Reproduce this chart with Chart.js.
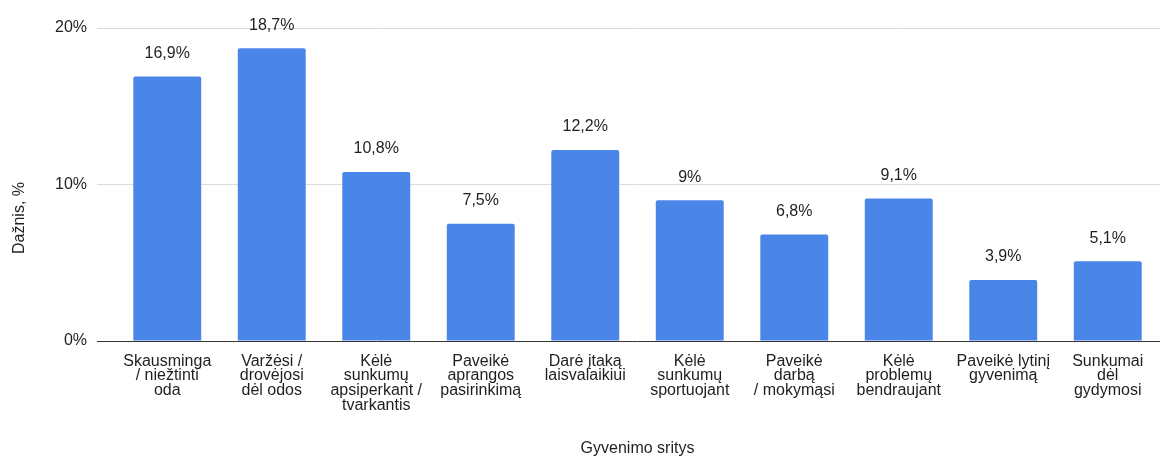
<!DOCTYPE html>
<html>
<head>
<meta charset="utf-8">
<script src="https://cdn.jsdelivr.net/npm/chart.js@4/dist/chart.umd.min.js"></script>
<style>
html,body{margin:0;padding:0;background:#fff;}
#wrap{width:1162px;height:459px;position:relative;}
</style>
</head>
<body>
<div id="wrap"><canvas id="c" width="1162" height="459"></canvas></div>
<script>
const categories = [
  ["Skausminga", "/ niežtinti", "oda"],
  ["Varžėsi /", "drovėjosi", "dėl odos"],
  ["Kėlė", "sunkumų", "apsiperkant /", "tvarkantis"],
  ["Paveikė", "aprangos", "pasirinkimą"],
  ["Darė įtaką", "laisvalaikiui"],
  ["Kėlė", "sunkumų", "sportuojant"],
  ["Paveikė", "darbą", "/ mokymąsi"],
  ["Kėlė", "problemų", "bendraujant"],
  ["Paveikė lytinį", "gyvenimą"],
  ["Sunkumai", "dėl", "gydymosi"]
];
const values = [16.9, 18.7, 10.8, 7.5, 12.2, 9, 6.8, 9.1, 3.9, 5.1];
const yTicks = [0, 10, 20];
const xTitle = "Gyvenimo sritys";
const yTitle = "Dažnis, %";

const FONT = "Arial, 'Liberation Sans', Helvetica, sans-serif";
const TXT = "#1f1f1f";

const fmt = v => String(v).replace('.', ',') + '%';

const valueLabels = {
  id: 'valueLabels',
  afterDatasetsDraw(chart) {
    const ctx = chart.ctx;
    const meta = chart.getDatasetMeta(0);
    ctx.save();
    ctx.font = "16px " + FONT;
    ctx.fillStyle = TXT;
    ctx.textAlign = 'center';
    ctx.textBaseline = 'middle';
    meta.data.forEach((bar, i) => {
      ctx.fillText(fmt(values[i]), bar.x, bar.y - 23);
    });
    ctx.restore();
  }
};

const yTitlePlugin = {
  id: 'yTitlePlugin',
  afterDraw(chart) {
    const ctx = chart.ctx;
    ctx.save();
    ctx.translate(20, 218);
    ctx.rotate(-Math.PI / 2);
    ctx.font = "16px " + FONT;
    ctx.fillStyle = TXT;
    ctx.textAlign = 'center';
    ctx.textBaseline = 'middle';
    ctx.fillText(yTitle, 0, 0);
    ctx.restore();
  }
};

new Chart(document.getElementById('c'), {
  type: 'bar',
  data: {
    labels: categories,
    datasets: [{
      data: values,
      backgroundColor: '#4a86e8',
      borderRadius: {topLeft: 2, topRight: 2},
      borderSkipped: 'bottom',
      barPercentage: 0.65,
      categoryPercentage: 1
    }]
  },
  options: {
    responsive: false,
    animation: false,
    devicePixelRatio: 1,
    layout: { padding: { top: 28, right: 2, bottom: 0, left: 10 } },
    plugins: { legend: { display: false }, tooltip: { enabled: false } },
    scales: {
      x: {
        grid: { display: false, drawTicks: false },
        border: { display: false },
        ticks: {
          color: TXT,
          font: { family: FONT, size: 16, lineHeight: 0.92 },
          padding: 13,
          maxRotation: 0,
          autoSkip: false
        },
        title: {
          display: true,
          text: xTitle,
          color: TXT,
          font: { family: FONT, size: 16 },
          padding: { top: 0, bottom: 1 }
        },
        afterFit(s) { s.height = 118; }
      },
      y: {
        min: 0,
        max: 20,
        afterBuildTicks(s) { s.ticks = yTicks.map(v => ({ value: v })); },
        grid: {
          color: c => (c.tick && c.tick.value === 0) ? '#333333' : '#dcdcdc',
          tickColor: c => (c.tick && c.tick.value === 0) ? '#333333' : '#dcdcdc',
          tickLength: 18,
          lineWidth: 1
        },
        border: { display: false },
        ticks: {
          color: TXT,
          font: { family: FONT, size: 16 },
          padding: 10,
          callback: v => v + '%'
        },
        title: { display: false },
        afterFit(s) { s.width = 105; }
      }
    }
  },
  plugins: [valueLabels, yTitlePlugin]
});
</script>
</body>
</html>
